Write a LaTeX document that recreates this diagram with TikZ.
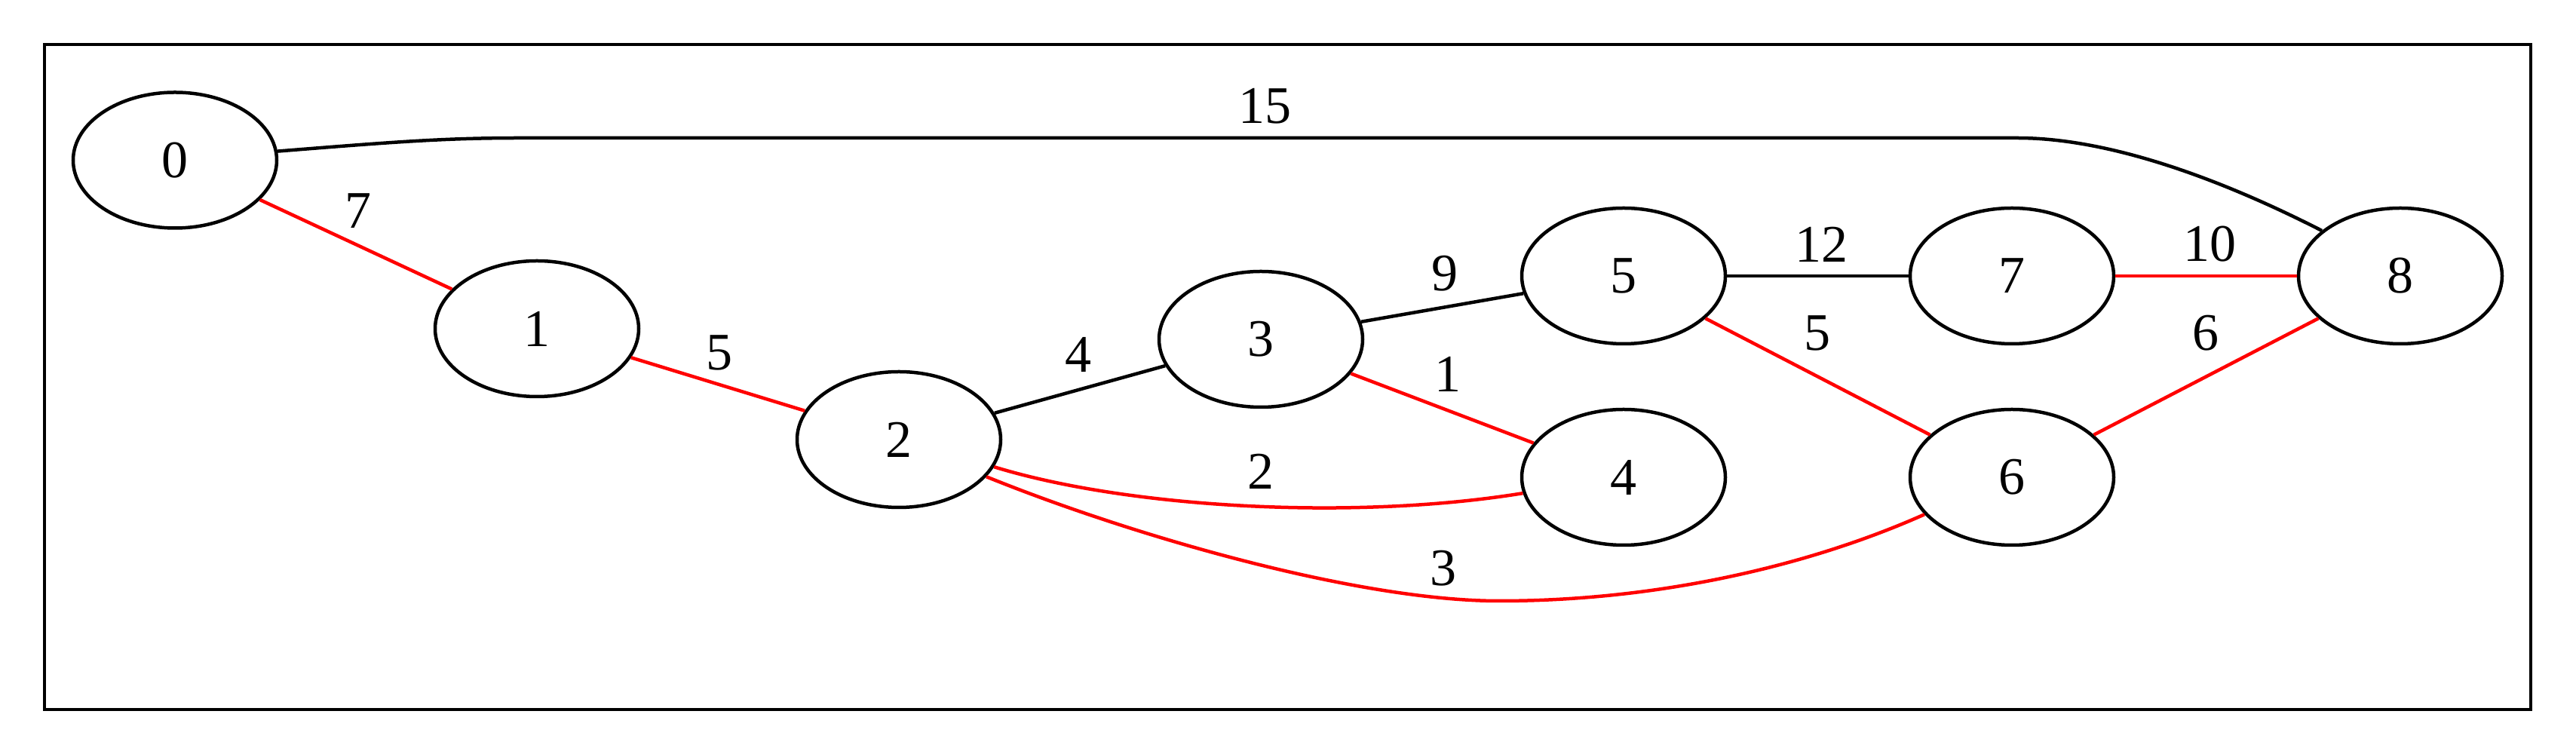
\documentclass[tikz,border=0pt]{standalone}
\usepackage{fontspec}
\setmainfont{Liberation Serif}
\usetikzlibrary{shapes.geometric}
\begin{document}
\begin{tikzpicture}[x=1pt,y=-1pt,
  font=\fontsize{14}{16}\selectfont,
  vtx/.style={draw=black, ellipse, line width=0.9pt, minimum width=54pt, minimum height=36pt, inner sep=0pt},
  treeedge/.style={draw=red, line width=0.9pt},
  plainedge/.style={draw=black, line width=0.9pt},
  lbl/.style={inner sep=0pt}]
\useasboundingbox (0,0) rectangle (683.2,200);
\draw[line width=0.9pt] (11.8,11.8) rectangle (671.2,188.2);
% vertices
\node[vtx] (n0) at (46.4,42.5) {0};
\node[vtx] (n1) at (142.4,87.2) {1};
\node[vtx] (n2) at (238.4,116.6) {2};
\node[vtx] (n3) at (334.4,90) {3};
\node[vtx] (n4) at (430.6,126.6) {4};
\node[vtx] (n5) at (430.6,73.2) {5};
\node[vtx] (n6) at (533.6,126.6) {6};
\node[vtx] (n7) at (533.6,73.2) {7};
\node[vtx] (n8) at (636.6,73.2) {8};
% edges
\draw[treeedge] (n0) -- (n1);
\draw[treeedge] (n1) -- (n2);
\draw[plainedge] (n2) -- (n3);
\draw[plainedge] (n3) -- (n5);
\draw[treeedge] (n3) -- (n4);
\draw[plainedge] (n5) -- (n7);
\draw[treeedge] (n5) -- (n6);
\draw[treeedge] (n7) -- (n8);
\draw[treeedge] (n6) -- (n8);
\draw[plainedge] (n0.5) .. controls (105,37.6) and (118,36.6) .. (138,36.6) -- (535,36.6) .. controls (560,36.6) and (590,48) .. (n8.150);
\draw[treeedge] (n2.-16) .. controls (300,135) and (360,138) .. (n4.-171);
\draw[treeedge] (n2.-23) .. controls (300,142) and (360,159.4) .. (397.6,159.4) .. controls (440,159.4) and (480,150) .. (n6.-157);
% labels
\node[lbl] (l01) at (94.9,55.9) {7};
\node[lbl] (l12) at (190.7,93.5) {5};
\node[lbl] (l08) at (335.4,28.1) {15};
\node[lbl] (l23) at (286,94.1) {4};
\node[lbl] (l35) at (383.2,72.5) {9};
\node[lbl] (l34) at (384,99.2) {1};
\node[lbl] (l24) at (334.4,125) {2};
\node[lbl] (l26) at (382.8,150.8) {3};
\node[lbl] (l57) at (483,64.8) {12};
\node[lbl] (l56) at (482,88.3) {5};
\node[lbl] (l78) at (586,64.8) {10};
\node[lbl] (l68) at (585,88.3) {6};
\end{tikzpicture}
\end{document}
